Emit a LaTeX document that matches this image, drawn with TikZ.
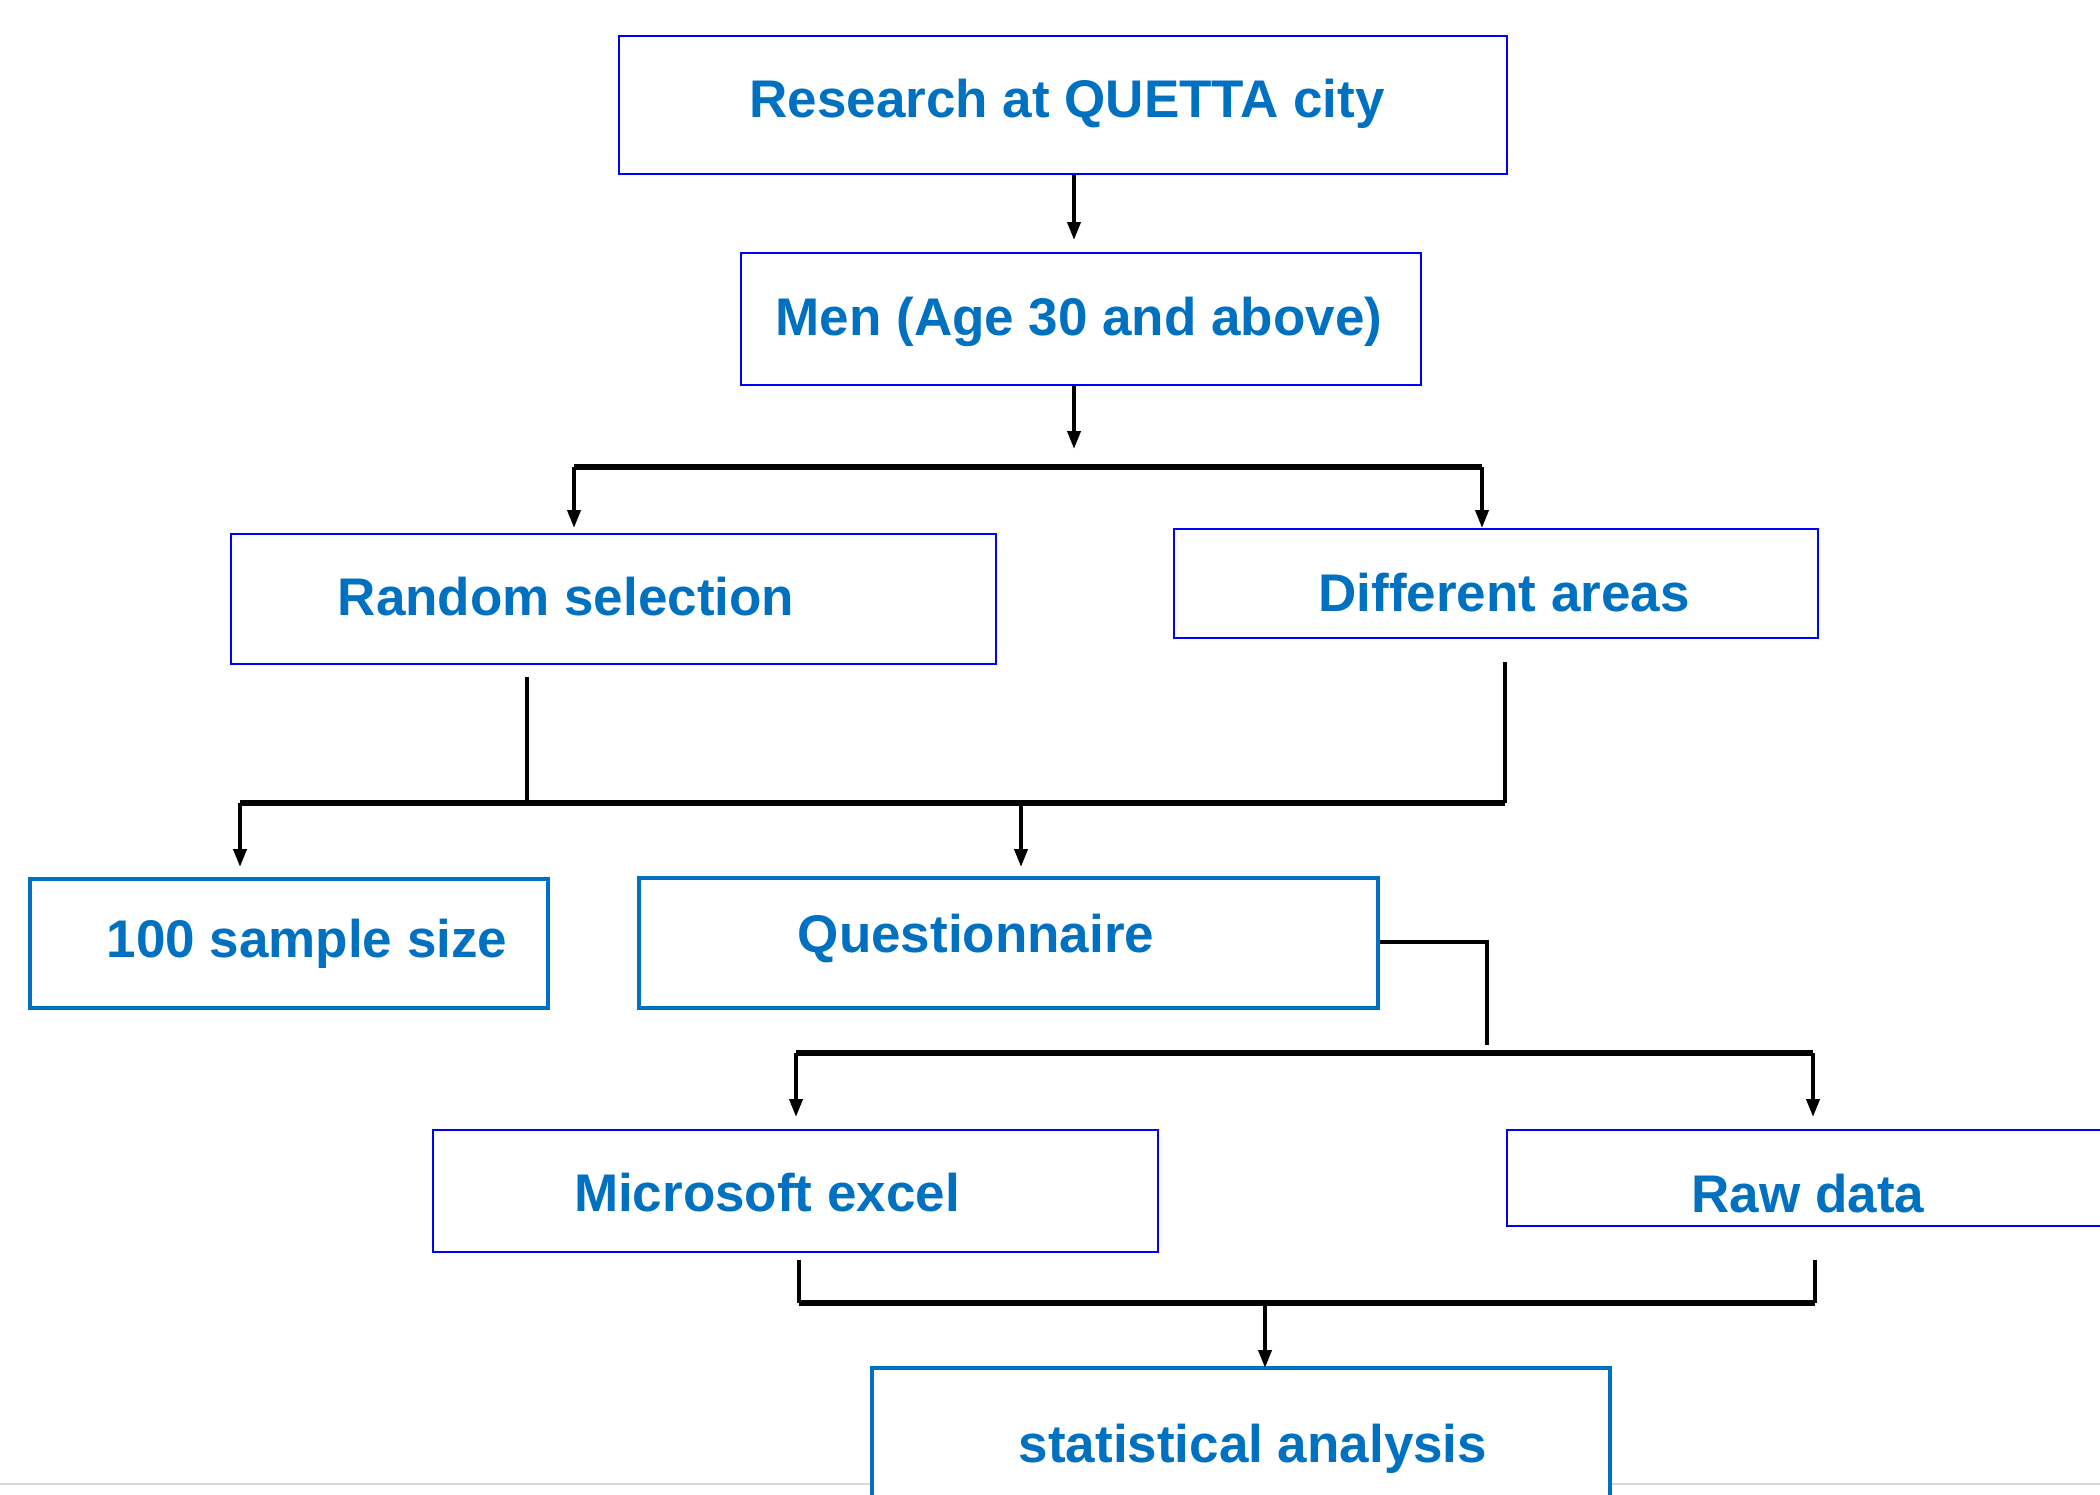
\documentclass[tikz,border=0pt]{standalone}
\usepackage{fontspec}
\setmainfont{Liberation Sans}
\usetikzlibrary{arrows.meta}
\definecolor{txtblue}{HTML}{0070C0}
\definecolor{boxblue}{HTML}{0000FF}
\definecolor{sepgray}{HTML}{DCD8D3}
\begin{document}
\begin{tikzpicture}[x=1pt,y=-1pt,
  thinbox/.style={draw=boxblue,line width=2.5pt,inner sep=0pt,fill=white},
  thickbox/.style={draw=txtblue,line width=4.5pt,inner sep=0pt,fill=white},
  lbl/.style={text=txtblue,font=\fontsize{53}{60}\selectfont\bfseries,anchor=base,inner sep=0pt},
  vline/.style={line width=3.8pt,draw=black},
  hline/.style={line width=5.5pt,draw=black},
  arr/.style={vline,-{Triangle[length=18pt,width=13pt]}}]
\clip (0,0) rectangle (2100,1494);
\fill[white] (0,0) rectangle (2100,1494);
\draw[sepgray,line width=2pt] (0,1484) -- (2100,1484);
% boxes
\node[thinbox,minimum width=888pt,minimum height=138pt] (research) at (1063,105) {};
\node[thinbox,minimum width=680pt,minimum height=132pt] (men) at (1081,319) {};
\node[thinbox,minimum width=765pt,minimum height=130pt] (random) at (613.5,599) {};
\node[thinbox,minimum width=644pt,minimum height=109pt] (diff) at (1496,583.5) {};
\node[thickbox,minimum width=518pt,minimum height=129pt] (sample) at (289,943.5) {};
\node[thickbox,minimum width=739pt,minimum height=130pt] (quest) at (1008.5,943) {};
\node[thinbox,minimum width=725pt,minimum height=122pt] (excel) at (795.5,1191) {};
\node[thinbox,minimum width=623pt,minimum height=96pt] (raw) at (1818.5,1178) {};
\node[thickbox,minimum width=738pt,minimum height=152pt] (stat) at (1241,1444) {};
% labels
\node[lbl] (tresearch) at (1067,117) {Research at QUETTA city};
\node[lbl] (tmen) at (1079,335) {Men (Age 30 and above)};
\node[lbl] (trandom) at (566,615) {Random selection};
\node[lbl] (tdiff) at (1504,611) {Different areas};
\node[lbl] (tsample) at (307,957) {100 sample size};
\node[lbl] (tquest) at (976,952) {Questionnaire};
\node[lbl] (texcel) at (767,1211) {Microsoft excel};
\node[lbl] (traw) at (1808,1212) {Raw data};
\node[lbl] (tstat) at (1253,1462) {statistical analysis};
% junction coordinates
\coordinate (j1) at (1074,240);
\coordinate (j2) at (1074,449);
\coordinate (bL) at (574,467);
\coordinate (bR) at (1482,467);
\coordinate (tL) at (574,528);
\coordinate (tR) at (1482,528);
\coordinate (r1) at (527,677);
\coordinate (r2) at (527,803);
\coordinate (d1) at (1505,662);
\coordinate (d2) at (1505,803);
\coordinate (mL) at (240,803);
\coordinate (mLt) at (240,867);
\coordinate (mC) at (1021,803);
\coordinate (mCt) at (1021,867);
\coordinate (q1) at (1487,942);
\coordinate (q2) at (1487,1045);
\coordinate (nL) at (796,1053);
\coordinate (nR) at (1813,1053);
\coordinate (nLt) at (796,1117);
\coordinate (nRt) at (1813,1117);
\coordinate (e1) at (799,1260);
\coordinate (e2) at (799,1303);
\coordinate (w1) at (1815,1260);
\coordinate (w2) at (1815,1303);
\coordinate (s1) at (1265,1303);
\coordinate (s2) at (1265,1368);
% connectors
\draw[arr] (research.south -| j1) -- (j1);
\draw[arr] (men.south -| j2) -- (j2);
\draw[hline] (bL) -- (bR);
\draw[arr] (bL) -- (tL);
\draw[arr] (bR) -- (tR);
\draw[vline] (r1) -- (r2);
\draw[vline] (d1) -- (d2);
\draw[hline] (mL) -- (d2);
\draw[arr] (mL) -- (mLt);
\draw[arr] (mC) -- (mCt);
\draw[vline] (quest.east |- q1) -- (q1) -- (q2);
\draw[hline] (nL) -- (nR);
\draw[arr] (nL) -- (nLt);
\draw[arr] (nR) -- (nRt);
\draw[vline] (e1) -- (e2);
\draw[vline] (w1) -- (w2);
\draw[hline] (e2) -- (w2);
\draw[arr] (s1) -- (s2);
\end{tikzpicture}
\end{document}
